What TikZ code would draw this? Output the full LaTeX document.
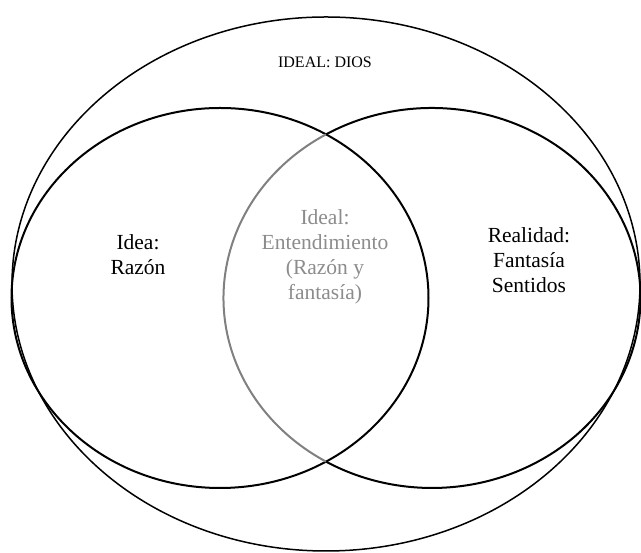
\documentclass[tikz,border=0pt]{standalone}
\usepackage{fontspec}
\setmainfont{Liberation Serif}
\definecolor{grisarco}{HTML}{808080}
\definecolor{gristexto}{HTML}{8C8C8C}
\tikzset{
  etiqueta/.style={align=center, font=\fontsize{21.5}{25}\selectfont},
  circulo/.style={line width=2pt},
}
\begin{document}
\begin{tikzpicture}[x=1pt, y=1pt]
  \useasboundingbox (0, 0) rectangle (641, 553);
  \pgfmathsetmacro{\xl}{220}
  \pgfmathsetmacro{\xr}{432}
  \pgfmathsetmacro{\yc}{255}
  \pgfmathsetmacro{\rx}{208.5}
  \pgfmathsetmacro{\ry}{190}
  \pgfmathsetmacro{\ang}{acos((\xr-\xl)/(2*\rx))}
  \draw[line width=1.5pt] (326, 269) ellipse [x radius=314, y radius=267];
  \draw[circulo] (\xl, \yc) ellipse [x radius=\rx, y radius=\ry];
  \draw[circulo] (\xr, \yc) ++(180-\ang:\rx pt and \ry pt)
       arc [start angle=180-\ang, end angle=-180+\ang, x radius=\rx, y radius=\ry];
  \draw[circulo, grisarco] (\xr, \yc) ++(180-\ang:\rx pt and \ry pt)
       arc [start angle=180-\ang, end angle=180+\ang, x radius=\rx, y radius=\ry];
  \node[font=\fontsize{16}{19}\selectfont] (dios) at (325, 491) {IDEAL: DIOS};
  \node[etiqueta] (razon) at (138, 298) {Idea:\\Razón};
  \node[etiqueta, text=gristexto] (entend) at (325, 296)
       {Ideal:\\Entendimiento\\(Razón y\\fantasía)};
  \node[etiqueta] (sentidos) at (529, 293) {Realidad:\\Fantasía\\Sentidos};
\end{tikzpicture}
\end{document}
